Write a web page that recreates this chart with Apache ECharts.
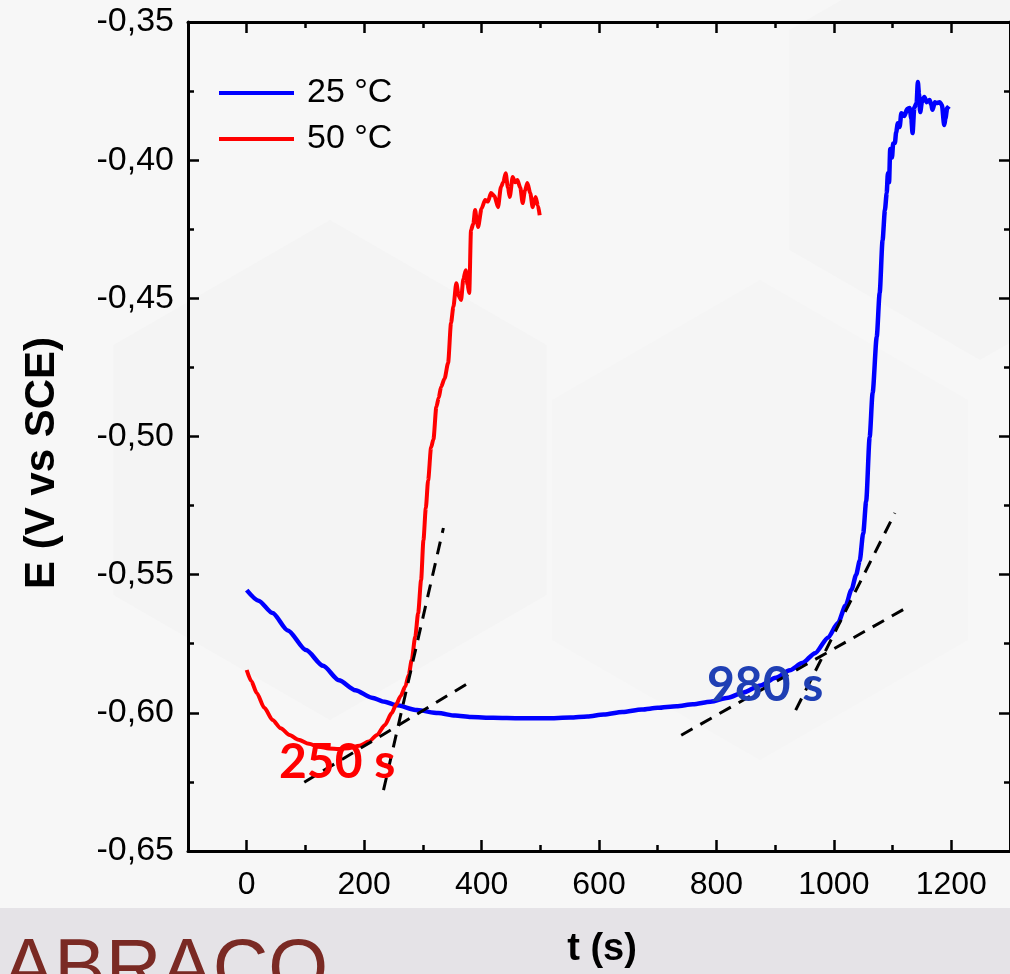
<!DOCTYPE html>
<html>
<head>
<meta charset="utf-8">
<title>Potencial de circuito aberto</title>
<script src="https://cdn.jsdelivr.net/npm/echarts@6/dist/echarts.min.js"></script>
<style>
  html, body { margin: 0; padding: 0; background: #f6f6f6; }
  #chart { width: 1010px; height: 974px; }
</style>
</head>
<body>
<div id="chart"></div>
<script>
// Open-circuit potential E (V vs SCE) against time t (s)
const seriesNames = ['25 °C', '50 °C'];

// 25 °C curve: [t (s), E (V)]
const curve25 = [
  [0, -0.5556], [20, -0.5594], [44, -0.5639], [70, -0.5702], [101, -0.5773],
  [130, -0.5830], [157, -0.5882], [185, -0.5918], [213, -0.5945], [235, -0.5960],
  [254, -0.5972], [290, -0.5990], [326, -0.6001], [355, -0.6010], [382, -0.6015],
  [420, -0.6018], [466, -0.6020], [510, -0.6020], [551, -0.6017], [580, -0.6013],
  [608, -0.6006], [640, -0.5997], [673, -0.5988], [700, -0.5982], [732, -0.5976],
  [760, -0.5969], [790, -0.5960], [820, -0.5945], [845, -0.5927], [875, -0.5901],
  [901, -0.5873], [925, -0.5846], [946, -0.5820], [968, -0.5784], [990, -0.5728],
  [1007, -0.5675], [1020, -0.5612], [1030, -0.5555], [1038, -0.5500], [1044, -0.5450],
  [1050, -0.5350], [1055, -0.5235], [1061, -0.5002], [1066, -0.4843], [1073, -0.4640],
  [1078, -0.4481], [1083, -0.4289], [1087, -0.4180], [1090, -0.4119], [1092, -0.4047],
  [1094, -0.4080], [1096, -0.3960], [1099, -0.3990], [1101, -0.3940], [1104, -0.3938],
  [1106, -0.3900], [1109, -0.3866], [1112, -0.3880], [1115, -0.3830], [1120, -0.3840],
  [1125, -0.3815], [1129, -0.3811], [1132, -0.3850], [1134, -0.3902], [1137, -0.3810],
  [1141, -0.3793], [1143, -0.3717], [1145, -0.3760], [1147, -0.3826], [1150, -0.3790],
  [1154, -0.3771], [1158, -0.3790], [1163, -0.3782], [1166, -0.3800], [1168, -0.3818],
  [1172, -0.3790], [1175, -0.3793], [1180, -0.3790], [1184, -0.3800], [1188, -0.3873],
  [1190, -0.3850], [1193, -0.3811], [1196, -0.3805]
];

// 50 °C curve: [t (s), E (V)]
const curve50 = [
  [0, -0.5845], [8, -0.5886], [17, -0.5928], [30, -0.5982], [44, -0.6026],
  [58, -0.6056], [73, -0.6080], [88, -0.6097], [106, -0.6112], [123, -0.6123],
  [140, -0.6129], [157, -0.6131], [174, -0.6128], [192, -0.6119], [208, -0.6104],
  [222, -0.6080], [235, -0.6045], [247, -0.6001], [254, -0.5972], [262, -0.5940],
  [270, -0.5905], [276, -0.5862], [281, -0.5809], [287, -0.5725], [292, -0.5639],
  [297, -0.5520], [301, -0.5375], [305, -0.5260], [309, -0.5158], [314, -0.5040],
  [318, -0.5010], [323, -0.4893], [327, -0.4860], [331, -0.4821], [337, -0.4790],
  [343, -0.4734], [348, -0.4589], [352, -0.4530], [357, -0.4445], [361, -0.4490],
  [365, -0.4506], [369, -0.4430], [373, -0.4398], [376, -0.4450], [379, -0.4481],
  [382, -0.4253], [386, -0.4230], [389, -0.4180], [392, -0.4220], [394, -0.4242],
  [400, -0.4175], [406, -0.4144], [411, -0.4150], [416, -0.4119], [422, -0.4130],
  [428, -0.4170], [433, -0.4097], [437, -0.4080], [441, -0.4047], [445, -0.4100],
  [448, -0.4133], [453, -0.4061], [457, -0.4080], [461, -0.4072], [466, -0.4100],
  [470, -0.4155], [474, -0.4110], [478, -0.4083], [483, -0.4120], [487, -0.4170],
  [492, -0.4133], [496, -0.4165], [499, -0.4199]
];

// Tangent construction lines: [t (s), E (V)] end points
const tangent50Base = [[98, -0.6251], [380, -0.5889]];
const tangent50Rise = [[233, -0.6280], [335, -0.5331]];
const tangent25Base = [[740, -0.6081], [1126, -0.5617]];
const tangent25Rise = [[935, -0.5990], [1104, -0.5277]];

// Onset labels
const onsetLabels = ['250 s', '980 s'];

// Axis ticks
const xMajorTicks = [0, 200, 400, 600, 800, 1000, 1200];
const xMinorTicks = [100, 300, 500, 700, 900, 1100];
const xRange = [-100, 1300];
const yRange = [-0.65, -0.35];

const chart = echarts.init(document.getElementById('chart'));

const baseFont = 'Liberation Sans, Arial, sans-serif';
const axisLineStyle = { color: '#000', width: 3 };
const tickStyle = { color: '#000', width: 2.5 };

function xAxisDef(position, ticks, tickLen, showLine, showLabel) {
  return {
    type: 'value', position: position,
    min: xRange[0], max: xRange[1], interval: 100,
    axisLine: { show: showLine, onZero: false, lineStyle: axisLineStyle },
    axisTick: { show: true, inside: true, length: tickLen, customValues: ticks, lineStyle: tickStyle },
    axisLabel: showLabel ? {
      show: true, customValues: ticks, color: '#000', fontSize: 32,
      fontFamily: baseFont, margin: 18,
      formatter: function (v) { return String(v); }
    } : { show: false },
    splitLine: { show: false }
  };
}

function yAxisDef(position, showLabel) {
  return {
    type: 'value', position: position,
    min: yRange[0], max: yRange[1], interval: 0.05,
    axisLine: { show: true, onZero: false, lineStyle: axisLineStyle },
    axisTick: { show: true, inside: true, length: 11, lineStyle: tickStyle },
    minorTick: { show: true, splitNumber: 2, length: 6, lineStyle: tickStyle },
    axisLabel: showLabel ? {
      show: true, color: '#000', fontSize: 34, fontFamily: baseFont, margin: 14,
      formatter: function (v) { return v.toFixed(2).replace('.', ','); }
    } : { show: false },
    splitLine: { show: false }
  };
}

function tangent(data) {
  return {
    type: 'line', data: data, xAxisIndex: 0, yAxisIndex: 0,
    symbol: 'none', silent: true, z: 5,
    lineStyle: { color: '#000', width: 3, type: [13, 9] }
  };
}

// faint hexagonal panels of the backdrop
function hexagon(cx, cy, r, fill) {
  const pts = [];
  for (let i = 0; i < 6; i++) {
    const a = Math.PI / 6 + i * Math.PI / 3;
    pts.push([cx + r * Math.cos(a), cy + r * Math.sin(a)]);
  }
  return { type: 'polygon', z: -20, silent: true, shape: { points: pts }, style: { fill: fill } };
}

const option = {
  backgroundColor: '#f7f7f7',
  animation: false,
  grid: { left: 188, top: 22, width: 828, height: 829 },
  legend: {
    data: seriesNames,
    orient: 'vertical', left: 214, top: 71,
    icon: 'rect', itemWidth: 75, itemHeight: 4, itemGap: 12,
    textStyle: { color: '#000', fontSize: 34, fontFamily: baseFont, padding: [0, 0, 0, 8] }
  },
  xAxis: [
    xAxisDef('bottom', xMajorTicks, 11, true, true),
    xAxisDef('bottom', xMinorTicks, 6, false, false),
    xAxisDef('top', xMajorTicks, 11, true, false),
    xAxisDef('top', xMinorTicks, 6, false, false)
  ],
  yAxis: [yAxisDef('left', true), yAxisDef('right', false)],
  graphic: [
    hexagon(330, 470, 250, '#f4f4f4'),
    hexagon(760, 520, 240, '#f5f5f5'),
    hexagon(980, 140, 220, '#f4f4f4'),
    { type: 'rect', left: 0, top: 908, z: -10, silent: true,
      shape: { width: 1010, height: 66 }, style: { fill: '#e5e3e7' } },
    { type: 'text', x: 3, y: 933, z: 10, silent: true,
      style: { text: 'ABRACO', fill: '#7a2a24', font: '77px Liberation Sans, Arial, sans-serif' } },
    { type: 'text', x: 602, y: 950, z: 10, silent: true,
      style: { text: 't (s)', fill: '#000', font: 'bold 38px Liberation Sans, Arial, sans-serif',
               align: 'center', verticalAlign: 'middle' } },
    { type: 'text', x: 42, y: 463, rotation: Math.PI / 2, z: 10, silent: true,
      style: { text: 'E (V vs SCE)', fill: '#000', font: 'bold 42px Liberation Sans, Arial, sans-serif',
               align: 'center', verticalAlign: 'middle' } },
    { type: 'text', x: 279, y: 763, z: 20, silent: true,
      style: { text: onsetLabels[0], fill: '#ff0000', font: 'bold 48px Lato, sans-serif',
               align: 'left', verticalAlign: 'middle' } },
    { type: 'text', x: 707, y: 686, z: 20, silent: true,
      style: { text: onsetLabels[1], fill: '#1f3fb4', font: 'bold 48px Lato, sans-serif',
               align: 'left', verticalAlign: 'middle' } }
  ],
  series: [
    {
      name: seriesNames[0], type: 'line', data: curve25, xAxisIndex: 0, yAxisIndex: 0,
      symbol: 'none', color: '#0000ff', z: 3, smooth: 0.25, smoothMonotone: 'x',
      lineStyle: { color: '#0000ff', width: 4.5 }
    },
    {
      name: seriesNames[1], type: 'line', data: curve50, xAxisIndex: 0, yAxisIndex: 0,
      symbol: 'none', color: '#ff0000', z: 4, smooth: 0.25, smoothMonotone: 'x',
      lineStyle: { color: '#ff0000', width: 4 }
    },
    tangent(tangent50Base),
    tangent(tangent50Rise),
    tangent(tangent25Base),
    tangent(tangent25Rise)
  ]
};

chart.setOption(option);
</script>
</body>
</html>
